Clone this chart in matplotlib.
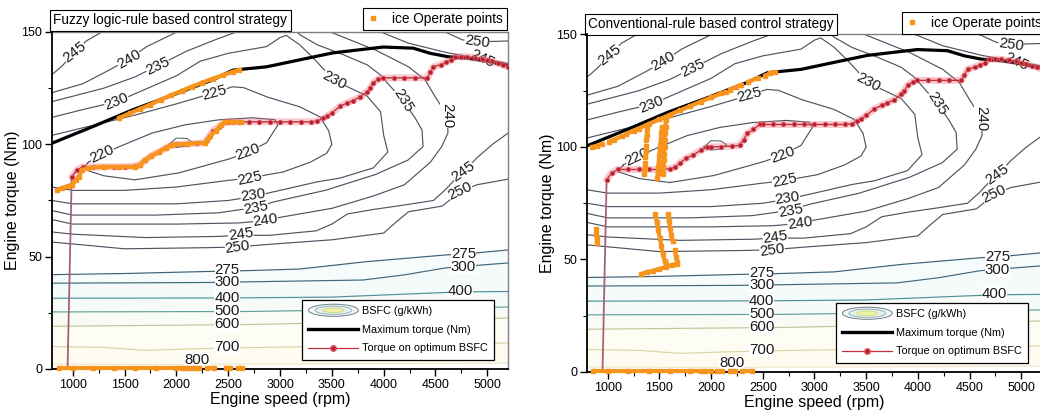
import numpy as np
import matplotlib.pyplot as plt
from matplotlib.lines import Line2D
from matplotlib.patches import Ellipse, Patch
from matplotlib.legend_handler import HandlerBase
from matplotlib.ticker import MultipleLocator

plt.rcParams['font.family'] = ['Liberation Sans', 'DejaVu Sans']

nan = np.nan

# ---- BSFC iso-lines (g/kWh), speed in rpm, torque in Nm; pieces split by nan
bsfc_inner_x = [1930, 2000, 2100, 2150, 2100, 2000, 1930]
bsfc_inner_y = [100, 102.8, 102.6, 101, 99.2, 98.6, 100]

bsfc_220_x = [1150, 1100, 1300, 1600, 2025, 2510, 2690, 2870, 2980, 2950, 2730, 2410, 2085, 1765, 1445, 1285, 1150]
bsfc_220_y = [92, 89, 86, 84.2, 87.3, 93.5, 96.5, 100.7, 108.7, 111, 111.8, 110.9, 108.7, 105, 98.9, 95.5, 92]

bsfc_225_x = [800, 1200, 1600, 2000, 2370, 2540, 2650, 2880, 3190, 3386, 3470, 3500, 3450, 3290, 3030, 2870,
              2710, 2510, 2000, 1500, 1000, 800]
bsfc_225_y = [104, 108.5, 113, 118, 123, 125.6, 125.2, 121, 116.7, 112.2, 106, 100, 96, 92, 87.7, 86.4,
              85, 84, 81, 79.5, 79.5, 81]

bsfc_230_x = [800, 1100, 1425, 1700, 2000, 2230, 2500, 2870, 3000, 3060, 3190, 3320, 3520, 3680, 3840, 3970,
              4000, 4040, 3900, 3580, 3360, 3000, 2740, 2500, 2000, 1000, 800]
bsfc_230_y = [112, 115.5, 119, 124.5, 130.5, 137, 140.5, 143.5, 147.5, 148.5, 144.3, 138.5, 128.5, 125, 121.5, 114.5,
              104, 96.6, 89.5, 85, 83.3, 79.5, 76.8, 75, 73.5, 73.5, 75]

bsfc_235_x = [800, 1300, 1600, 1820, 2100, 2400, 2700, 3120, 3190, 3360, 3610, 3840, 3966, 4185, 4300, 4370,
              4380, 4235, 3917, 3435, 2950, 2740, 2400, 1800, 1000, 800]
bsfc_235_y = [119, 125, 130, 135, 141.5, 147, 152, 152, 148.8, 144.3, 139.9, 135.4, 131, 119.5, 112, 106.4,
              99, 93, 86.5, 79.5, 74.5, 71.7, 69.5, 68.5, 68.5, 70.5]

bsfc_240_x = [800, 1100, 1390, 1540, 1715, 2005, 2100, 3350, 3430, 3600, 3920, 4240, 4400, 4500, 4615, 4620,
              4560, 4450, 4200, 3900, 3500, 3000, 2840, 2600, 2000, 1000, 800]
bsfc_240_y = [123, 127, 134, 138, 143.5, 150, 153, 153, 151, 147.9, 142, 134.5, 128.7, 121, 112.7, 105,
              99, 92, 82, 77, 71.5, 67.5, 66, 65, 64.5, 64.5, 66.5]

bsfc_245_x = [800, 900, 1020, 1130, 1300, 1350, nan,
              3850, 3920, 4240, 4620, 4950, 5200, nan,
              800, 1000, 1700, 2400, 2610, 2900, 3350, 3500, 3650, 3900, 4200, 4480, 4600, 4700, 4770, 4900,
              5050, 5200]
bsfc_245_y = [131, 135, 141, 146, 150.5, 153, nan,
              153, 151, 145, 140.7, 138, 136, nan,
              61, 60, 58.5, 59, 59.5, 59.5, 61.5, 64.5, 69, 71, 73, 75, 80, 85, 87.7, 94,
              100, 105]

bsfc_250_x = [4450, 4760, 4900, 5200, nan,
              800, 1500, 2300, 2580, 2900, 3500, 4000, 4110, 4240, 4565, 4740, 4900, 5200]
bsfc_250_y = [153, 146.5, 145.6, 146, nan,
              56.5, 53.5, 54, 54.3, 55.5, 57.5, 60.5, 65, 70, 72.5, 79, 82, 84.5]

bsfc_275_x = [800, 1500, 2300, 2700, 3190, 3840, 4610, 4830, 5200]
bsfc_275_y = [42, 42.5, 43.4, 43.8, 44.5, 47.8, 50.8, 51.4, 53]
bsfc_300_x = [800, 2300, 2700, 3800, 4200, 4600, 4950, 5200]
bsfc_300_y = [38.2, 38.5, 38.8, 39.6, 41.9, 45, 46.3, 47.2]
bsfc_400_x = [800, 2300, 2700, 3500, 4300, 4740, 5200]
bsfc_400_y = [31.5, 31.6, 31.7, 32, 33.5, 34.3, 34.5]
bsfc_500_x = [800, 2700, 4000, 5200]
bsfc_500_y = [25.4, 25.6, 26.5, 27.6]
bsfc_600_x = [800, 2700, 4000, 5200]
bsfc_600_y = [19, 19.8, 21, 22.7]
bsfc_700_x = [800, 1300, 1700, 2200, 2800, 4000, 5200]
bsfc_700_y = [10, 9.6, 8.3, 9, 9.6, 10.5, 11.6]
bsfc_800_x = [800, 2000, 5200]
bsfc_800_y = [2.2, 2.0, 2.6]

# ---- engine curves
max_torque_speed = [800, 1200, 1580, 1970, 2350, 2545, 2870, 3190, 3510, 3995, 4285, 4450, 4620, 4800, 5000, 5200]
max_torque_nm = [100.5, 108, 115.4, 122, 128.7, 133, 134.5, 137.6, 140.7, 143.3, 142.8, 140.5, 139, 138.4, 137, 135]

opt_speed = [950, 990, 1040, 1100, 1200, 1300, 1400, 1500, 1600, 1650, 1700, 1760, 1830, 1900, 1960, 2000,
             2100, 2200, 2275, 2315, 2350, 2410, 2470, 2500, 2600, 2700, 2800, 2900, 3000, 3100, 3200, 3300,
             3360, 3410, 3450, 3500, 3580, 3650, 3700, 3770, 3840, 3870, 3900, 3950, 3990, 4100, 4200, 4300,
             4420, 4450, 4480, 4550, 4600, 4650, 4690, 4750, 4800, 4880, 4950, 5000, 5050, 5100, 5150, 5200]
opt_torque = [0, 85.5, 88.6, 90, 90, 90, 90, 90, 90.3, 91, 93, 95, 96.6, 98.5, 99.8, 100,
              100.2, 100.4, 100.7, 103.3, 106, 107.8, 110, 110, 110, 110, 110, 110, 110, 110, 110, 110,
              110.3, 111.5, 112.5, 114, 117, 118.5, 119.5, 121, 123.5, 125, 127.5, 129, 129.6, 129.6, 129.6, 129.6,
              129.6, 132, 134.5, 135.5, 136.5, 137.5, 139, 139, 139, 138.5, 138, 137.5, 137, 136, 135.5, 134.5]

# ---- ICE operating points, fuzzy strategy
fuzzy_top_speed = [1450, 1550, 1650, 1750, 1850, 1950, 2050, 2150, 2250, 2350, 2450, 2550, 2600]
fuzzy_top_torque = [111.8, 113.8, 115.8, 117.7, 119.9, 121.9, 123.8, 125.7, 127.5, 129.2, 130.8, 132.3, 133]
fuzzy_low_speed = [850, 900, 950, 990, 1030, 1060, 1090, 1150, 1300, 1450, 1600, 1650, 1700, 1760, 1830,
                   1900, 1960, 2100, 2275, 2300, 2320, 2380, 2430, 2470, 2550, 2620]
fuzzy_low_torque = [79.7, 80.6, 81.3, 82, 84, 85.5, 88.6, 89.5, 90, 90, 90, 91, 93, 95, 96.6,
                    98.5, 99.8, 100.2, 100.7, 102, 103.5, 106, 108.5, 110, 110, 110]
fuzzy_idle_speed = [870, 1000, 1200, 1400, 1600, 1800, 2000, 2050, nan, 2080, 2130, nan, 2170, 2220, nan,
                    2300, 2360, nan, 2480, 2520, nan, 2590, 2630]
fuzzy_idle_torque = [0.6, 0.6, 0.6, 0.6, 0.6, 0.6, 0.6, 0.6, nan, 0.6, 0.6, nan, 0.6, 0.6, nan,
                     0.6, 0.6, nan, 0.6, 0.6, nan, 0.6, 0.6]

# ---- ICE operating points, conventional strategy
conv_top_speed = [850, 900, 950, nan, 1010, 1060, 1140, nan, 1180, 1250, 1300, 1400, 1500, 1600, 1700, 1800,
                  1900, 2000, 2100, 2140, nan, 2180, 2240, 2290, nan, 2360, 2450, nan, 2520, 2570, 2620]
conv_top_torque = [100, 100.5, 101.3, nan, 102.3, 103.3, 104.8, nan, 105.8, 107.2, 108.2, 110.3, 112.3, 114.3,
                   116.3, 118.2, 120.2, 122, 123.8, 124.5, nan, 125.5, 126.5, 127.5, nan, 129, 130.5, nan,
                   131.7, 132.7, 133.5]
conv_col1_speed = [1355, 1360, 1365, nan, 1365, 1370, 1375, nan, 1372, 1378, 1382]
conv_col1_torque = [88, 90.5, 93, nan, 95.5, 98, 100.5, nan, 103, 105.5, 108]
conv_col2_speed = [1480, 1485, 1490, 1495, 1500, 1505, 1510, 1515, 1520, 1525]
conv_col2_torque = [86, 88.5, 91, 93.5, 96, 98.5, 101, 103.5, 106, 109]
conv_col3_speed = [1535, 1540, 1545, 1545, 1550, 1550, 1555, 1560, 1560]
conv_col3_torque = [88, 91, 94, 97, 100, 103, 106, 109, 112]
conv_slant1_speed = [1460, 1475, 1490, 1505, 1520, 1535, 1550, 1560]
conv_slant1_torque = [70, 66.5, 63, 59.5, 56, 52.5, 49.5, 48]
conv_slant2_speed = [1580, 1592, 1604, 1616, 1628, nan, 1650, 1662, 1674]
conv_slant2_torque = [70, 67, 64, 61, 58, nan, 54, 51, 49]
conv_base_speed = [1320, 1380, 1440, 1500, 1560, 1620, 1670]
conv_base_torque = [43.5, 44.3, 45, 45.8, 46.6, 47.5, 48.2]
conv_small_speed = [890, 892, 894, 897]
conv_small_torque = [63.5, 61.5, 59.5, 57.5]
conv_idle_speed = [860, 1000, 1200, 1400, 1600, 1800, 1900, nan, 1940, 2000, nan, 2060, 2110, nan,
                   2180, 2230, nan, 2300, 2400]
conv_idle_torque = [0.6, 0.6, 0.6, 0.6, 0.6, 0.6, 0.6, nan, 0.6, 0.6, nan, 0.6, 0.6, nan,
                    0.6, 0.6, nan, 0.6, 0.6]

BSFC_LINES = [
    (220, bsfc_220_x, bsfc_220_y), (225, bsfc_225_x, bsfc_225_y), (230, bsfc_230_x, bsfc_230_y),
    (235, bsfc_235_x, bsfc_235_y), (240, bsfc_240_x, bsfc_240_y), (245, bsfc_245_x, bsfc_245_y),
    (250, bsfc_250_x, bsfc_250_y), (275, bsfc_275_x, bsfc_275_y), (300, bsfc_300_x, bsfc_300_y),
    (400, bsfc_400_x, bsfc_400_y), (500, bsfc_500_x, bsfc_500_y), (600, bsfc_600_x, bsfc_600_y),
    (700, bsfc_700_x, bsfc_700_y), (800, bsfc_800_x, bsfc_800_y),
]

LINE_COLORS = {220: '#4d5563', 225: '#4d5563', 230: '#4d5563', 235: '#4d5563', 240: '#4d5563',
               245: '#4d5563', 250: '#4d5563', 275: '#3d6275', 300: '#3f6a7c', 400: '#4f9096',
               500: '#64a09c', 600: '#c4c49c', 700: '#dcd4a0', 800: '#f1e8c8'}

# inline label spots: (speed, torque, angle)
LABEL_SPOTS = {
    220: [(1285, 95.5, 25), (2690, 96.5, 20)],
    225: [(2370, 123, 15), (2710, 85, 12)],
    230: [(1425, 119, 22), (3520, 128.5, -28), (2740, 77.2, 8)],
    235: [(1820, 135, 25), (4185, 119.5, -58), (2770, 71.7, 10)],
    240: [(1540, 138, 30), (4615, 112.7, -90), (2860, 66.0, 8)],
    245: [(1020, 141, 38), (4950, 138, -25), (2620, 59.8, 8), (4770, 87.7, 35)],
    250: [(4900, 145.6, -8), (2590, 54.2, 8), (4740, 79, 25)],
    275: [(2490, 44.2, 0), (4770, 51.2, 0)],
    300: [(2490, 38.6, 0), (4770, 45.4, 0)],
    400: [(2490, 31.4, 0), (4740, 34.5, 0)],
    500: [(2490, 25.6, 0)],
    600: [(2490, 20.0, 0)],
    700: [(2490, 9.6, 0)],
    800: [(2200, 4.0, 0)],
}

BANDS = [(bsfc_275_x, bsfc_275_y, bsfc_300_x, bsfc_300_y, '#f6fbfc'),
         (bsfc_300_x, bsfc_300_y, bsfc_400_x, bsfc_400_y, '#f5fbfb'),
         (bsfc_400_x, bsfc_400_y, bsfc_500_x, bsfc_500_y, '#f6fbf8'),
         (bsfc_500_x, bsfc_500_y, bsfc_600_x, bsfc_600_y, '#f9fcf4'),
         (bsfc_600_x, bsfc_600_y, bsfc_700_x, bsfc_700_y, '#fdfdf3'),
         (bsfc_700_x, bsfc_700_y, bsfc_800_x, bsfc_800_y, '#fefcf1')]

ORANGE = '#f7941d'
RED = '#b3202c'


class HandlerBSFC(HandlerBase):
    def create_artists(self, legend, orig_handle, xdescent, ydescent, width, height, fontsize, trans):
        cx = 0.5 * width - xdescent
        cy = 0.5 * height - ydescent
        rings = [('#f4f7f8', '#6d7c8a', 1.0, 1.6), ('#e4f1ee', '#8fb3b9', 0.74, 1.1),
                 ('#eef2a8', '#d6da90', 0.42, 0.6)]
        out = []
        for fc, ec, fw, fh in rings:
            e = Ellipse((cx, cy), width * fw, height * fh, facecolor=fc, edgecolor=ec, lw=0.7)
            e.set_transform(trans)
            out.append(e)
        return out


def draw_map(ax):
    for xa, ya, xb, yb, col in BANDS:
        ax.fill(np.r_[xa, xb[::-1]], np.r_[ya, yb[::-1]], color=col, lw=0, zorder=0.5)
    ax.plot(bsfc_inner_x, bsfc_inner_y, color='#4d5563', lw=0.7, zorder=1)
    for lv, xs, ys in BSFC_LINES:
        ax.plot(xs, ys, color=LINE_COLORS[lv], lw=0.85, zorder=1)
        for sx, sy, ang in LABEL_SPOTS[lv]:
            ax.text(sx, sy, str(lv), color='#1a1a1a', zorder=1.5, ha='center', va='center',
                    rotation=ang, rotation_mode='anchor', fontsize=10.8,
                    bbox=dict(boxstyle='square,pad=0.0', fc='white', ec='none'))

    ax.plot(max_torque_speed, max_torque_nm, color='black', lw=2.3, zorder=3)
    ax.plot(opt_speed[1:], opt_torque[1:], color='#f06a78', lw=5, alpha=0.35, zorder=3.5,
            solid_capstyle='round')
    ax.plot(opt_speed[:2], opt_torque[:2], color='#a4607e', lw=1.3, zorder=3.6)
    ax.plot(opt_speed[1:], opt_torque[1:], color='#c0303c', lw=1, marker='o', ms=3.2,
            mfc=RED, mec='#e05868', mew=0.6, zorder=3.7)


def draw_ops(ax, sets):
    for xs, ys in sets:
        ax.plot(xs, ys, color=ORANGE, lw=3, marker='s', ms=3, mec=ORANGE, zorder=5,
                solid_capstyle='butt', clip_on=False)


def style_axes(ax, title, box_y, ops_x):
    ax.set_xlim(800, 5200)
    ax.set_ylim(0, 150)
    ax.xaxis.set_minor_locator(MultipleLocator(250))
    ax.yaxis.set_major_locator(MultipleLocator(50))
    ax.yaxis.set_minor_locator(MultipleLocator(25))
    ax.set_xticks(range(1000, 5001, 500))
    ax.tick_params(which='major', direction='out', length=5, width=1, labelsize=9, pad=2)
    ax.tick_params(which='minor', direction='out', length=3, width=0.8)
    for s in ['left', 'bottom']:
        ax.spines[s].set_linewidth(1.3)
        ax.spines[s].set_zorder(4)
    for s in ['top', 'right']:
        ax.spines[s].set_color('#808080')
        ax.spines[s].set_linewidth(1)
    ax.set_xlabel('Engine speed (rpm)', fontsize=11.5, labelpad=1)
    ax.set_ylabel('Engine torque (Nm)', fontsize=11.5, labelpad=1)

    ax.text(0.003, box_y, title, transform=ax.transAxes, ha='left', va='bottom', fontsize=9.8,
            bbox=dict(boxstyle='square,pad=0.25', fc='white', ec='black', lw=0.8))

    ops = ax.legend([Line2D([], [], ls='None', marker='s', ms=3.5, color=ORANGE)],
                    ['ice Operate points'], loc='lower right', bbox_to_anchor=(ops_x, box_y - 0.008),
                    frameon=True, fancybox=False, edgecolor='black', framealpha=1, fontsize=9.8,
                    handlelength=0.8, handletextpad=1.0, borderpad=0.3, borderaxespad=0)
    ops.get_frame().set_linewidth(0.8)
    ax.add_artist(ops)

    bsfc_handle = Patch()
    handles = [bsfc_handle,
               Line2D([], [], color='black', lw=2.4),
               Line2D([], [], color='#c0303c', lw=0.9, marker='o', ms=4, mfc=RED, mec='#e05868')]
    labels = ['BSFC (g/kWh)', 'Maximum torque (Nm)', 'Torque on optimum BSFC']
    leg = ax.legend(handles, labels, handler_map={bsfc_handle: HandlerBSFC()}, loc='lower right',
                    bbox_to_anchor=(0.97, 0.027), frameon=True, fancybox=False, edgecolor='black',
                    framealpha=1, fontsize=7.8, handlelength=4.6, handletextpad=0.35,
                    labelspacing=0.8, borderpad=0.6, borderaxespad=0)
    leg.get_frame().set_linewidth(0.9)
    leg.set_zorder(10)


fig = plt.figure(figsize=(10.4, 4.16), dpi=100)
ax1 = fig.add_axes([0.05, 0.113, 0.4385, 0.8101])
ax2 = fig.add_axes([0.5644, 0.1058, 0.4375, 0.8113])

draw_map(ax1)
draw_ops(ax1, [(fuzzy_top_speed, fuzzy_top_torque), (fuzzy_low_speed, fuzzy_low_torque),
               (fuzzy_idle_speed, fuzzy_idle_torque)])
style_axes(ax1, 'Fuzzy logic-rule based control strategy', 1.014, 0.997)

draw_map(ax2)
draw_ops(ax2, [(conv_top_speed, conv_top_torque), (conv_col1_speed, conv_col1_torque),
               (conv_col2_speed, conv_col2_torque), (conv_col3_speed, conv_col3_torque),
               (conv_slant1_speed, conv_slant1_torque), (conv_slant2_speed, conv_slant2_torque),
               (conv_base_speed, conv_base_torque), (conv_small_speed, conv_small_torque),
               (conv_idle_speed, conv_idle_torque)])
style_axes(ax2, 'Conventional-rule based control strategy', 1.010, 1.008)

fig.savefig('out.png', dpi=100)
